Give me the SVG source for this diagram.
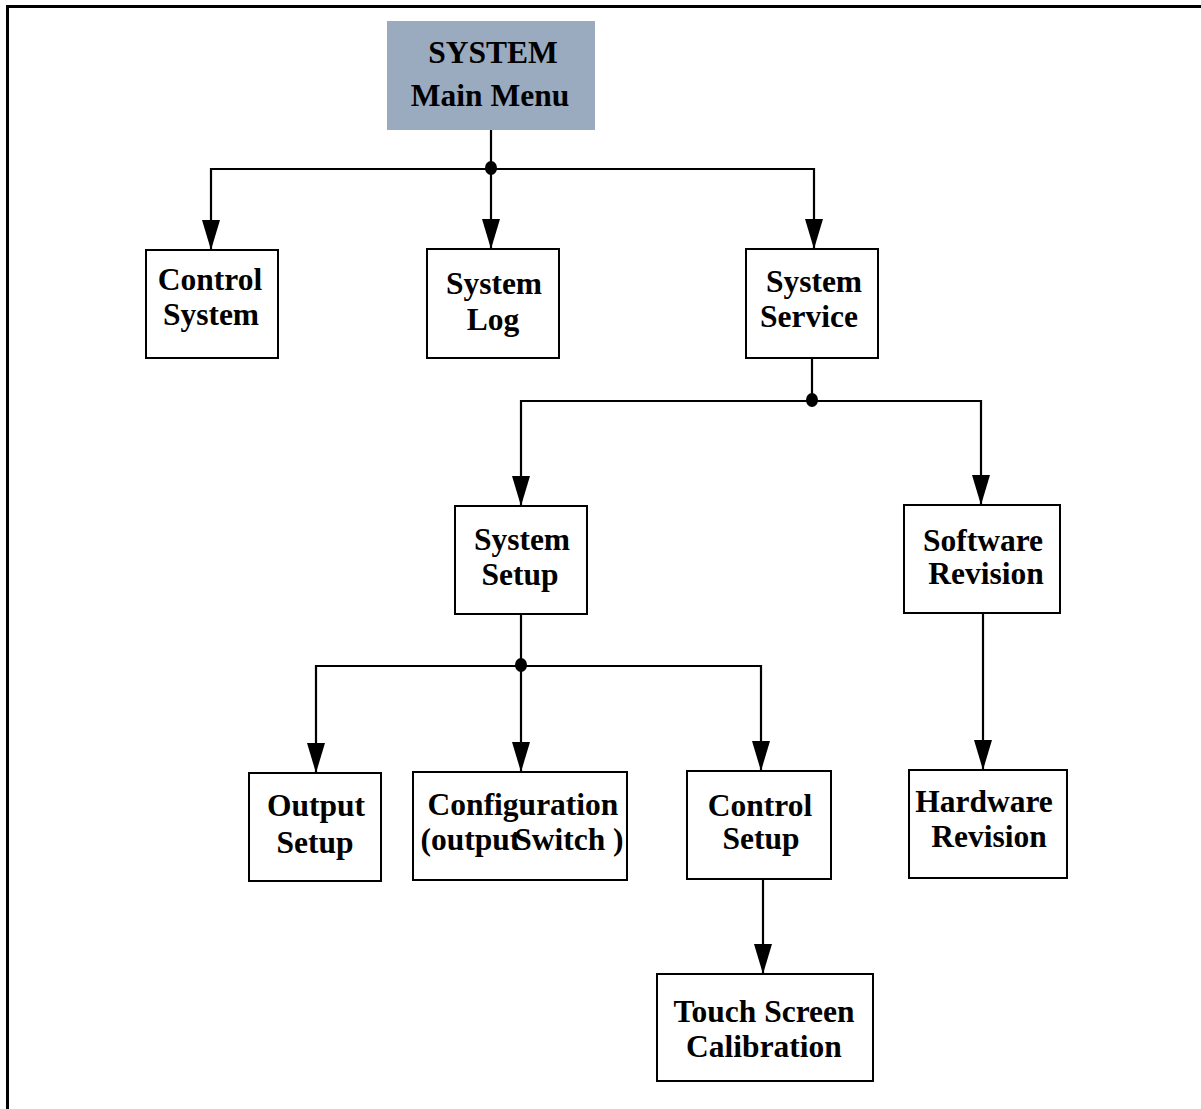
<svg xmlns="http://www.w3.org/2000/svg" width="1201" height="1109" viewBox="0 0 1201 1109">
  <style>
    .box { fill: #ffffff; stroke: #000000; stroke-width: 2; }
    .root { fill: #9aaabf; stroke: none; }
    .lbl { font-family: "Liberation Serif", "Times New Roman", serif; font-weight: bold; font-size: 31.5px; fill: #000000; text-anchor: middle; }
    .wire { fill: none; stroke: #000000; stroke-width: 2.2; }
    .arrow { fill: none; stroke: #000000; stroke-width: 2.2; marker-end: url(#head); }
    .dot { fill: #000000; }
  </style>
  <defs>
    <marker id="head" viewBox="0 0 18 30" refX="9" refY="30" markerWidth="18" markerHeight="30" markerUnits="userSpaceOnUse" orient="0">
      <path d="M0,0 L18,0 L9,30 Z" fill="#000000"/>
    </marker>
  </defs>

  <!-- frame -->
  <path d="M7.5,1109 L7.5,6.5 L1201,6.5" fill="none" stroke="#000000" stroke-width="3"/>

  <!-- connectors -->
  <g id="connectors">
    <path class="wire" d="M491,130 L491,169"/>
    <path class="arrow" d="M491,169 L211,169 L211,250"/>
    <path class="arrow" d="M491,169 L491,249"/>
    <path class="arrow" d="M491,169 L814,169 L814,249"/>
    <ellipse class="dot" cx="491" cy="168" rx="6" ry="7"/>

    <path class="wire" d="M812,358 L812,401"/>
    <path class="arrow" d="M812,401 L521,401 L521,506"/>
    <path class="arrow" d="M812,401 L981,401 L981,505"/>
    <ellipse class="dot" cx="812" cy="400" rx="6" ry="7"/>

    <path class="wire" d="M521,614 L521,666"/>
    <path class="arrow" d="M521,666 L316,666 L316,773"/>
    <path class="arrow" d="M521,666 L521,772"/>
    <path class="arrow" d="M521,666 L761,666 L761,771"/>
    <ellipse class="dot" cx="521" cy="665" rx="6" ry="7"/>

    <path class="arrow" d="M763,879 L763,974"/>
    <path class="arrow" d="M983,613 L983,770"/>
  </g>

  <!-- nodes -->
  <g id="main-menu">
    <rect class="root" x="387" y="21" width="208" height="109"/>
    <text class="lbl" x="493" y="63">SYSTEM</text>
    <text class="lbl" x="490" y="106">Main Menu</text>
  </g>
  <g id="control-system">
    <rect class="box" x="146" y="250" width="132" height="108"/>
    <text class="lbl" x="210" y="290">Control</text>
    <text class="lbl" x="211" y="325">System</text>
  </g>
  <g id="system-log">
    <rect class="box" x="427" y="249" width="132" height="109"/>
    <text class="lbl" x="494" y="294">System</text>
    <text class="lbl" x="493" y="330">Log</text>
  </g>
  <g id="system-service">
    <rect class="box" x="746" y="249" width="132" height="109"/>
    <text class="lbl" x="814" y="292">System</text>
    <text class="lbl" x="809" y="327">Service</text>
  </g>
  <g id="system-setup">
    <rect class="box" x="455" y="506" width="132" height="108"/>
    <text class="lbl" x="522" y="550">System</text>
    <text class="lbl" x="520" y="585">Setup</text>
  </g>
  <g id="software-revision">
    <rect class="box" x="904" y="505" width="156" height="108"/>
    <text class="lbl" x="983" y="551">Software</text>
    <text class="lbl" x="986" y="584">Revision</text>
  </g>
  <g id="output-setup">
    <rect class="box" x="249" y="773" width="132" height="108"/>
    <text class="lbl" x="316" y="816">Output</text>
    <text class="lbl" x="315" y="853">Setup</text>
  </g>
  <g id="configuration">
    <rect class="box" x="413" y="772" width="214" height="108"/>
    <text class="lbl" x="523" y="815">Configuration</text>
    <text class="lbl" x="522" y="850">(output<tspan dx="-6">Switch )</tspan></text>
  </g>
  <g id="control-setup">
    <rect class="box" x="687" y="771" width="144" height="108"/>
    <text class="lbl" x="760" y="816">Control</text>
    <text class="lbl" x="761" y="849">Setup</text>
  </g>
  <g id="hardware-revision">
    <rect class="box" x="909" y="770" width="158" height="108"/>
    <text class="lbl" x="984" y="812">Hardware</text>
    <text class="lbl" x="989" y="847">Revision</text>
  </g>
  <g id="touch-screen-calibration">
    <rect class="box" x="657" y="974" width="216" height="107"/>
    <text class="lbl" x="764" y="1022">Touch Screen</text>
    <text class="lbl" x="764" y="1057">Calibration</text>
  </g>
</svg>
